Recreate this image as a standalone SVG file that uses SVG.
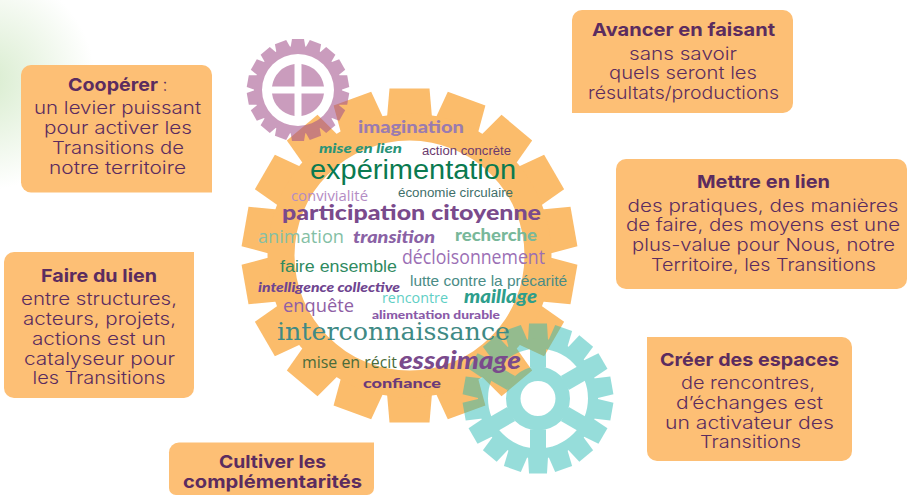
<svg xmlns="http://www.w3.org/2000/svg" width="907" height="495" viewBox="0 0 907 495">
<style>
.box{fill:#fdbf75}
.t{font-family:"Inter","Liberation Sans",sans-serif;font-size:17.5px;font-weight:300;fill:#5b2c5f;text-anchor:middle}
.h{font-weight:700;font-size:18px}
.w{font-family:"Liberation Sans",sans-serif}
.o{font-family:"Open Sans","Liberation Sans",sans-serif}
.l{font-family:"Lato","Liberation Sans",sans-serif;font-weight:900}
.i{font-family:"Lato","Liberation Sans",sans-serif;font-weight:900;font-style:italic}
.s{font-family:"DejaVu Serif","Liberation Serif",serif}
</style>
<defs>
<radialGradient id="bg" gradientUnits="userSpaceOnUse" cx="-15" cy="80" r="110">
<stop offset="0" stop-color="#d8ecce"/><stop offset="1" stop-color="#ffffff"/>
</radialGradient>
<polygon id="toothL" points="-20,-167 20,-167 22.500,-138 -22.500,-138"/>
<polygon id="toothP" points="-6,-51 6,-51 7.500,-42 -7.500,-42"/>
<polygon id="toothT" points="-9,-75 9,-75 10,-58 -10,-58"/>
<g id="teethL"><use href="#toothL"/><use href="#toothL" transform="rotate(20)"/><use href="#toothL" transform="rotate(40)"/><use href="#toothL" transform="rotate(60)"/><use href="#toothL" transform="rotate(80)"/><use href="#toothL" transform="rotate(100)"/><use href="#toothL" transform="rotate(120)"/><use href="#toothL" transform="rotate(140)"/><use href="#toothL" transform="rotate(160)"/><use href="#toothL" transform="rotate(180)"/><use href="#toothL" transform="rotate(200)"/><use href="#toothL" transform="rotate(220)"/><use href="#toothL" transform="rotate(240)"/><use href="#toothL" transform="rotate(260)"/><use href="#toothL" transform="rotate(280)"/><use href="#toothL" transform="rotate(300)"/><use href="#toothL" transform="rotate(320)"/><use href="#toothL" transform="rotate(340)"/></g>
<g id="teethP"><use href="#toothP"/><use href="#toothP" transform="rotate(20)"/><use href="#toothP" transform="rotate(40)"/><use href="#toothP" transform="rotate(60)"/><use href="#toothP" transform="rotate(80)"/><use href="#toothP" transform="rotate(100)"/><use href="#toothP" transform="rotate(120)"/><use href="#toothP" transform="rotate(140)"/><use href="#toothP" transform="rotate(160)"/><use href="#toothP" transform="rotate(180)"/><use href="#toothP" transform="rotate(200)"/><use href="#toothP" transform="rotate(220)"/><use href="#toothP" transform="rotate(240)"/><use href="#toothP" transform="rotate(260)"/><use href="#toothP" transform="rotate(280)"/><use href="#toothP" transform="rotate(300)"/><use href="#toothP" transform="rotate(320)"/><use href="#toothP" transform="rotate(340)"/></g>
<g id="teethT"><use href="#toothT"/><use href="#toothT" transform="rotate(20)"/><use href="#toothT" transform="rotate(40)"/><use href="#toothT" transform="rotate(60)"/><use href="#toothT" transform="rotate(80)"/><use href="#toothT" transform="rotate(100)"/><use href="#toothT" transform="rotate(120)"/><use href="#toothT" transform="rotate(140)"/><use href="#toothT" transform="rotate(160)"/><use href="#toothT" transform="rotate(180)"/><use href="#toothT" transform="rotate(200)"/><use href="#toothT" transform="rotate(220)"/><use href="#toothT" transform="rotate(240)"/><use href="#toothT" transform="rotate(260)"/><use href="#toothT" transform="rotate(280)"/><use href="#toothT" transform="rotate(300)"/><use href="#toothT" transform="rotate(320)"/><use href="#toothT" transform="rotate(340)"/></g>
</defs>
<rect width="907" height="495" fill="#fff"/>
<rect width="100" height="200" fill="url(#bg)"/>
<g id="gear-orange" fill="#fbbc6b" transform="translate(409.5 255.5)">
<use href="#teethL"/>
<path fill-rule="evenodd" d="M-142,0a142,142 0 1,0 284,0a142,142 0 1,0 -284,0ZM-115,0a115,115 0 1,0 230,0a115,115 0 1,0 -230,0Z"/>
</g>
<g id="gear-purple" fill="#a2508b" opacity=".56" transform="translate(298 90)">
<use href="#teethP"/>
<path fill-rule="evenodd" d="M-44,0a44,44 0 1,0 88,0a44,44 0 1,0 -88,0ZM-36,0a36,36 0 1,0 72,0a36,36 0 1,0 -72,0Z"/>
<path d="M-3.500,-26A26,26 0 0 0 -26,-3.500H-3.500ZM3.500,-26A26,26 0 0 1 26,-3.500H3.500ZM-3.500,26A26,26 0 0 1 -26,3.500H-3.500ZM3.500,26A26,26 0 0 0 26,3.500H3.500Z"/>
</g>
<g id="gear-teal" fill="#26bab4" opacity=".48" transform="translate(538 398.500)">
<use href="#teethT"/>
<path fill-rule="evenodd" d="M-60,0a60,60 0 1,0 120,0a60,60 0 1,0 -120,0ZM-50,0a50,50 0 1,0 100,0a50,50 0 1,0 -100,0Z"/>
<path fill-rule="evenodd" d="M-32,0a32,32 0 1,0 64,0a32,32 0 1,0 -64,0ZM-17.500,0a17.500,17.500 0 1,0 35,0a17.500,17.500 0 1,0 -35,0Z"/>
<g id="spokes">
<rect x="-8" y="-51" width="16" height="20"/><rect x="-8" y="31" width="16" height="20"/>
<rect x="-8" y="-51" width="16" height="20" transform="rotate(60)"/><rect x="-8" y="31" width="16" height="20" transform="rotate(60)"/>
<rect x="-8" y="-51" width="16" height="20" transform="rotate(120)"/><rect x="-8" y="31" width="16" height="20" transform="rotate(120)"/>
</g>
</g>
<g id="cloud">
<text class="l" x="358" y="133" font-size="17" fill="#9a7bb0" textLength="106" lengthAdjust="spacingAndGlyphs">imagination</text>
<text class="i" x="319" y="153" font-size="13" fill="#2a9478" textLength="83" lengthAdjust="spacingAndGlyphs">mise en lien</text>
<text class="w" x="422" y="155" font-size="12.500" fill="#6b3a6e" textLength="89" lengthAdjust="spacingAndGlyphs">action concrète</text>
<text class="w" x="310" y="179" font-size="27" fill="#0a7a50" textLength="206" lengthAdjust="spacingAndGlyphs">expérimentation</text>
<text class="o" x="291" y="201" font-size="15" fill="#b48cc4" textLength="77" lengthAdjust="spacingAndGlyphs">convivialité</text>
<text class="w" x="398" y="197" font-size="12.500" fill="#3f6f6a" textLength="115" lengthAdjust="spacingAndGlyphs">économie circulaire</text>
<text class="l" x="282" y="220" font-size="21" fill="#7a4a8c" textLength="259" lengthAdjust="spacingAndGlyphs">participation citoyenne</text>
<text class="o" x="258" y="243" font-size="18" fill="#84bfa5" textLength="86" lengthAdjust="spacingAndGlyphs">animation</text>
<text class="i" x="353" y="243" font-size="16" fill="#8a62a5" textLength="82" lengthAdjust="spacingAndGlyphs">transition</text>
<text class="l" x="455" y="241" font-size="16" fill="#79b89a" textLength="82" lengthAdjust="spacingAndGlyphs">recherche</text>
<text class="o" x="402" y="264" font-size="20" fill="#9b6fb5" textLength="143" lengthAdjust="spacingAndGlyphs">décloisonnement</text>
<text class="w" x="280" y="272" font-size="16" fill="#2f8a5f" textLength="117" lengthAdjust="spacingAndGlyphs">faire ensemble</text>
<text class="w" x="410" y="286" font-size="15" fill="#4a8c86" textLength="157" lengthAdjust="spacingAndGlyphs">lutte contre la précarité</text>
<text class="i" x="258" y="292" font-size="13" fill="#6f4590" textLength="142" lengthAdjust="spacingAndGlyphs">intelligence collective</text>
<text class="o" x="382" y="303" font-size="15" fill="#5fcfc5" textLength="66" lengthAdjust="spacingAndGlyphs">rencontre</text>
<text class="i" x="464" y="303" font-size="18" fill="#2d9e8c" textLength="73" lengthAdjust="spacingAndGlyphs">maillage</text>
<text class="o" x="283" y="312" font-size="18" fill="#8f5fa5" textLength="71" lengthAdjust="spacingAndGlyphs">enquête</text>
<text class="l" x="372" y="319" font-size="11.500" fill="#8a5aa8" textLength="128" lengthAdjust="spacingAndGlyphs">alimentation durable</text>
<text class="s" x="277" y="340" font-size="25" fill="#3f8a85" textLength="233" lengthAdjust="spacingAndGlyphs">interconnaissance</text>
<text class="o" x="302" y="368" font-size="16" fill="#4a6b3a" textLength="95" lengthAdjust="spacingAndGlyphs">mise en récit</text>
<text class="i" x="399" y="369" font-size="24" fill="#7a4a8c" textLength="122" lengthAdjust="spacingAndGlyphs">essaimage</text>
<text class="l" x="363" y="388" font-size="14" fill="#6b3a7a" textLength="78" lengthAdjust="spacingAndGlyphs">confiance</text>
</g>
<g id="box-cooperer">
<path class="box" d="M31,65H202a10,10 0 0 1 10,10V192.500H31a10,10 0 0 1 -10,-10V75a10,10 0 0 1 10,-10Z"/>
<text class="t h" x="113" y="91" textLength="90" lengthAdjust="spacingAndGlyphs">Coopérer</text>
<text class="t" x="165" y="91">:</text>
<text class="t" x="117.500" y="114" textLength="167" lengthAdjust="spacingAndGlyphs">un levier puissant</text>
<text class="t" x="118" y="134" textLength="148" lengthAdjust="spacingAndGlyphs">pour activer les</text>
<text class="t" x="118" y="154" textLength="132" lengthAdjust="spacingAndGlyphs">Transitions de</text>
<text class="t" x="117.500" y="174" textLength="137" lengthAdjust="spacingAndGlyphs">notre territoire</text>
</g>
<g id="box-avancer">
<path class="box" d="M582,10H783a10,10 0 0 1 10,10V103a10,10 0 0 1 -10,10H572V20a10,10 0 0 1 10,-10Z"/>
<text class="t h" x="683.500" y="36" textLength="183" lengthAdjust="spacingAndGlyphs">Avancer en faisant</text>
<text class="t" x="683" y="59.500" textLength="108" lengthAdjust="spacingAndGlyphs">sans savoir</text>
<text class="t" x="683" y="79" textLength="148" lengthAdjust="spacingAndGlyphs">quels seront les</text>
<text class="t" x="683.500" y="99" textLength="191" lengthAdjust="spacingAndGlyphs">résultats/productions</text>
</g>
<g id="box-mettre">
<rect class="box" x="616" y="159" width="291" height="130" rx="10"/>
<text class="t h" x="763.500" y="188" textLength="133" lengthAdjust="spacingAndGlyphs">Mettre en lien</text>
<text class="t" x="763" y="211.500" textLength="271" lengthAdjust="spacingAndGlyphs">des pratiques, des manières</text>
<text class="t" x="763" y="231" textLength="274" lengthAdjust="spacingAndGlyphs">de faire, des moyens est une</text>
<text class="t" x="763.500" y="250.500" textLength="263" lengthAdjust="spacingAndGlyphs">plus-value pour Nous, notre</text>
<text class="t" x="763.500" y="270.500" textLength="225" lengthAdjust="spacingAndGlyphs">Territoire, les Transitions</text>
</g>
<g id="box-creer">
<path class="box" d="M647,337H842a10,10 0 0 1 10,10V451a10,10 0 0 1 -10,10H657a10,10 0 0 1 -10,-10Z"/>
<text class="t h" x="749.500" y="365.500" textLength="179" lengthAdjust="spacingAndGlyphs">Créer des espaces</text>
<text class="t" x="748" y="389" textLength="134" lengthAdjust="spacingAndGlyphs">de rencontres,</text>
<text class="t" x="749.500" y="408.500" textLength="147" lengthAdjust="spacingAndGlyphs">d’échanges est</text>
<text class="t" x="749.500" y="428.500" textLength="169" lengthAdjust="spacingAndGlyphs">un activateur des</text>
<text class="t" x="750.500" y="447.500" textLength="101" lengthAdjust="spacingAndGlyphs">Transitions</text>
</g>
<g id="box-faire">
<path class="box" d="M14,252H194V388a10,10 0 0 1 -10,10H14a10,10 0 0 1 -10,-10V262a10,10 0 0 1 10,-10Z"/>
<text class="t h" x="99" y="282" textLength="116" lengthAdjust="spacingAndGlyphs">Faire du lien</text>
<text class="t" x="99" y="305" textLength="156" lengthAdjust="spacingAndGlyphs">entre structures,</text>
<text class="t" x="99.500" y="325" textLength="153" lengthAdjust="spacingAndGlyphs">acteurs, projets,</text>
<text class="t" x="99" y="345" textLength="134" lengthAdjust="spacingAndGlyphs">actions est un</text>
<text class="t" x="99.500" y="364.500" textLength="151" lengthAdjust="spacingAndGlyphs">catalyseur pour</text>
<text class="t" x="99" y="384" textLength="133" lengthAdjust="spacingAndGlyphs">les Transitions</text>
</g>
<g id="box-cultiver">
<path class="box" d="M179,442.500H374V488a7,7 0 0 1 -7,7H176a7,7 0 0 1 -7,-7V452.500a10,10 0 0 1 10,-10Z"/>
<text class="t h" x="272.500" y="468" textLength="107" lengthAdjust="spacingAndGlyphs">Cultiver les</text>
<text class="t h" x="272.500" y="487.500" textLength="179" lengthAdjust="spacingAndGlyphs">complémentarités</text>
</g>
</svg>
